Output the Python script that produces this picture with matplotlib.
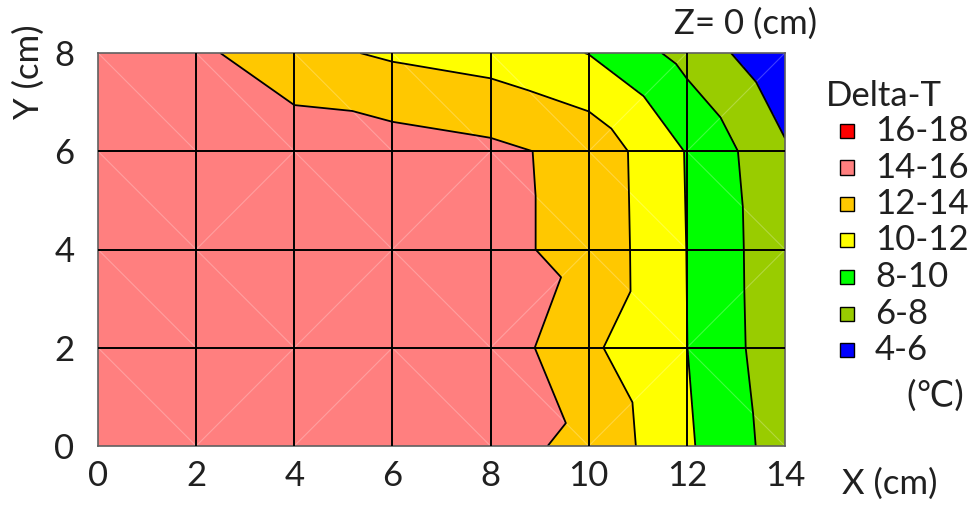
import matplotlib
matplotlib.use("Agg")
import matplotlib.pyplot as plt
import matplotlib.tri as mtri
from matplotlib.patches import Rectangle

x_cm = [0, 2, 4, 6, 8, 10, 12, 14]
y_cm = [0, 2, 4, 6, 8]

# Delta-T at each grid node, one list per row of y
dt_y0 = [15.5, 15.5, 15.4, 15.2, 14.57, 13.59, 10.28, 7.03]
dt_y2 = [15.5, 15.5, 15.5, 15.4, 15.35, 12.35, 10.02, 6.65]
dt_y4 = [15.4, 15.4, 15.3, 15.0, 14.45, 13.47, 9.98, 6.57]
dt_y6 = [15.3, 15.3, 15.25, 14.98, 14.45, 13.4, 9.9, 6.25]
dt_y8 = [14.9, 14.46, 12.59, 11.71, 11.15, 9.95, 7.33, 4.37]

levels = [4, 6, 8, 10, 12, 14, 16, 18]
band_colors = ['#0000FF', '#99CC00', '#00FF00', '#FFFF00', '#FFC800', '#FF7F7F', '#FF0000']
band_labels = ['4-6', '6-8', '8-10', '10-12', '12-14', '14-16', '16-18']

# how each grid cell is cut in two, +1 = lower-left to upper-right
cell_split = [
    [-1, 1, 1, -1, -1, 1, -1],
    [-1, -1, 1, -1, 1, -1, 1],
    [-1, 1, -1, 1, -1, -1, -1],
    [-1, -1, -1, -1, -1, 1, 1],
]

rows = [dt_y0, dt_y2, dt_y4, dt_y6, dt_y8]
nx, ny = len(x_cm), len(y_cm)
px, py, pz = [], [], []
for j in range(ny):
    for i in range(nx):
        px.append(x_cm[i])
        py.append(y_cm[j])
        pz.append(rows[j][i])

triangles = []
diagonals = []
for j in range(ny - 1):
    for i in range(nx - 1):
        a = j * nx + i
        b = a + 1
        d = a + nx
        c = d + 1
        if cell_split[j][i] > 0:
            triangles += [[a, b, c], [a, c, d]]
            diagonals.append((a, c))
        else:
            triangles += [[a, b, d], [b, c, d]]
            diagonals.append((b, d))

tri = mtri.Triangulation(px, py, triangles)

plt.rcParams['font.family'] = ['Lato', 'DejaVu Sans']
fs = 25
fig = plt.figure(figsize=(9.71, 5.07), dpi=100)
ax = fig.add_axes([98 / 971, 1 - 446 / 507, 687 / 971, 393 / 507])

ax.tricontourf(tri, pz, levels=levels, colors=band_colors, zorder=1)
for p, q in diagonals:
    ax.plot([px[p], px[q]], [py[p], py[q]], color='white', lw=0.8, alpha=0.25, zorder=1.5)
ax.tricontour(tri, pz, levels=levels[1:-1], colors='black', linewidths=1.3, zorder=2)

for xv in x_cm[1:-1]:
    ax.axvline(xv, color='black', lw=1.4, zorder=3)
for yv in y_cm[1:-1]:
    ax.axhline(yv, color='black', lw=1.4, zorder=3)

ax.set_xlim(0, 14)
ax.set_ylim(0, 8)
ax.set_xticks(x_cm)
ax.set_yticks(y_cm)
ax.tick_params(length=0, labelsize=fs, colors='#202020')
ax.tick_params(axis='x', pad=10)
ax.tick_params(axis='y', pad=17)
for s in ax.spines.values():
    s.set_color('#606060')
    s.set_linewidth(1.2)

fig.text(29 / 971, 1 - 72 / 507, 'Y (cm)', rotation=90, fontsize=fs,
         ha='center', va='center', color='#202020')
fig.text(890 / 971, 1 - 484 / 507, 'X (cm)', fontsize=fs,
         ha='center', va='center', color='#202020')
fig.text(746 / 971, 1 - 24 / 507, 'Z= 0 (cm)', fontsize=fs,
         ha='center', va='center', color='#202020')

# legend drawn by hand, top entry is the hottest band
fig.text(884 / 971, 1 - 96 / 507, 'Delta-T', fontsize=fs,
         ha='center', va='center', color='#202020')
for k in range(len(band_labels)):
    n = len(band_labels) - 1 - k
    yc = 131 + 36.5 * k
    fig.add_artist(Rectangle(((847 - 7) / 971, 1 - (yc + 7) / 507), 14 / 971, 14 / 507,
                             transform=fig.transFigure, facecolor=band_colors[n],
                             edgecolor='black', lw=1.0))
    fig.text(875 / 971, 1 - yc / 507, band_labels[n], fontsize=fs,
             ha='left', va='center', color='#202020')
fig.text(964 / 971, 1 - 396 / 507, '(\u2103)', fontsize=fs,
         ha='right', va='center', color='#202020')

fig.savefig('out.png', dpi=100)
